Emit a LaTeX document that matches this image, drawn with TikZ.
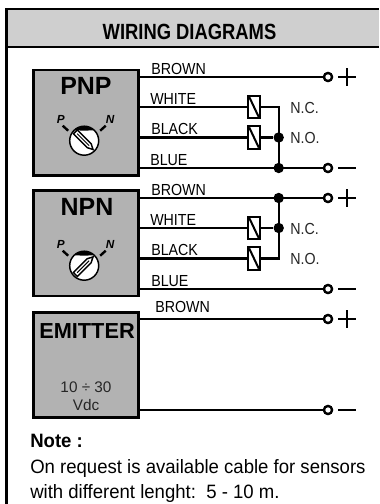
\documentclass[tikz,border=0pt]{standalone}
\usepackage{graphicx}
\usepackage{fontspec}
\setmainfont{Liberation Sans}
\definecolor{boxgray}{gray}{0.70}
\definecolor{headgray}{gray}{0.81}
\newcommand{\narrow}[1]{\scalebox{0.89}[1]{#1}}
\tikzset{
  x=0.75pt,y=-0.75pt,
  box/.style={draw=black,line width=2.1pt,fill=boxgray,minimum width=78.9pt,minimum height=78.9pt,inner sep=0pt},
  wire/.style={draw=black,line width=1.7pt},
  wlabel/.style={anchor=base west,inner sep=0pt,font=\fontsize{12pt}{13pt}\selectfont},
  nclabel/.style={anchor=base west,inner sep=0pt,font=\fontsize{12pt}{13pt}\selectfont,text=black!85},
  term/.style={circle,draw=black,line width=1.7pt,fill=white,minimum size=6pt,inner sep=0pt},
  jdot/.style={circle,fill=black,minimum size=7.8pt,inner sep=0pt},
  coil/.style={draw=black,line width=1.6pt,fill=white,minimum width=8.4pt,minimum height=17pt,inner sep=0pt},
  title/.style={font=\bfseries\fontsize{18.7pt}{21pt}\selectfont,inner sep=0pt},
  notetext/.style={anchor=base west,inner sep=0pt,font=\fontsize{14.5pt}{16pt}\selectfont},
  dialmark/.style={inner sep=0pt,font=\bfseries\itshape\fontsize{8.8pt}{10pt}\selectfont},
}
\newcommand{\coilmark}[1]{\draw[black,line width=1.5pt] ([xshift=-3.6pt,yshift=7.6pt]#1.center) -- ([xshift=3.6pt,yshift=-7.6pt]#1.center);}
\newcommand{\selector}[3]{%
  \begin{scope}[shift={(#1,#2)}]
    \draw[black,line width=1.1pt,fill=white] (0,0) circle (14.5);
    \fill[black] (-9.5,-10.5) .. controls (-4,-15.5) and (4,-15.5) .. (9.5,-10.5) .. controls (4,-10) and (-4,-10) .. (-9.5,-10.5) -- cycle;
    \draw[black,line width=1.1pt,fill=white,rotate=#3] (-12.5,-2.8) -- (7,-2.8) -- (12.5,0) -- (7,2.8) -- (-12.5,2.8) -- cycle;
    \draw[black,line width=0.7pt,rotate=#3] (-10,0) -- (7,0);
    \draw[black,line width=1.8pt] (-16,-10) -- (-21.5,-15);
    \draw[black,line width=1.8pt] (16,-10) -- (21.5,-15);
    \node[dialmark] at (-23.3,-21) {P};
    \node[dialmark] at (26,-21) {N};
  \end{scope}}
\begin{document}
\begin{tikzpicture}
\useasboundingbox (0,0) rectangle (379,504);
\fill[white] (0,0) rectangle (379,504);
\fill[headgray] (6.7,9) rectangle (379,47);
\draw[black,line width=2pt] (6.7,504) -- (6.7,9) -- (379,9);
\draw[black,line width=2pt] (6.7,47) -- (379,47);
\node[inner sep=0pt,font=\bfseries\fontsize{16.5pt}{18pt}\selectfont] (head) at (189.5,32) {\scalebox{0.836}[1]{WIRING DIAGRAMS}};

% boxes
\node[box] (pnp) at (85.8,122.5) {};
\node[box] (npn) at (85.8,243.3) {};
\node[box] (emi) at (85.8,364.8) {};
\node[title] (tpnp) at (86,86) {PNP};
\node[title] (tnpn) at (87,207) {NPN};
\node[title,font=\bfseries\fontsize{16.3pt}{18pt}\selectfont] (temi) at (87,331) {EMITTER};
\node[inner sep=0pt,anchor=base,font=\fontsize{11.5pt}{13pt}\selectfont,text=black!85] (vdc1) at (86,392) {10 ÷ 30};
\node[inner sep=0pt,anchor=base,font=\fontsize{11.5pt}{13pt}\selectfont,text=black!85] (vdc2) at (86,410) {Vdc};
\selector{84.2}{140.7}{-45}
\selector{84.2}{265.7}{45}

% terminals
\foreach \n/\y in {a/77,b/168,c/198,d/289,e/319,f/410}{
  \node[term] (t\n) at (328,\y) {};
}
% PNP wires
\coordinate (pa) at (139,77); \coordinate (pb) at (139,107); \coordinate (pc) at (139,137.5); \coordinate (pd) at (139,168);
\node[coil] (c1) at (254,107) {};
\node[coil] (c2) at (254,137.5) {};
\node[jdot] (j1) at (278.7,137.5) {};
\node[jdot] (j2) at (278.7,168) {};
\coordinate (k1) at (278.7,107);
\draw[wire] (pa) -- (ta);
\draw[wire] (pb) -- (c1);
\draw[wire] (pc) -- (c2);
\draw[wire] (pd) -- (tb);
\draw[wire] (c1) -- (k1) -- (j2);
\draw[wire] (c2) -- (j1);
\node[coil] at (254,107) (c1a) {};\coilmark{c1a}
\node[coil] at (254,137.5) (c2a) {};\coilmark{c2a}
\node[term] at (328,77) {};\node[term] at (328,168) {};

% NPN wires
\coordinate (na) at (139,198); \coordinate (nb) at (139,228); \coordinate (nc) at (139,258.5); \coordinate (nd) at (139,289);
\node[jdot] (j3) at (278.7,198) {};
\node[jdot] (j4) at (278.7,228) {};
\coordinate (k2) at (278.7,258.5);
\draw[wire] (na) -- (tc);
\draw[wire] (nb) -- (j4);
\draw[wire] (nc) -- (k2) -- (j3);
\draw[wire] (nd) -- (td);
\node[coil] (c3) at (254,228) {};\coilmark{c3}
\node[coil] (c4) at (254,258.5) {};\coilmark{c4}
\node[term] at (328,198) {};\node[term] at (328,289) {};

% emitter wires
\coordinate (ea) at (139,319); \coordinate (eb) at (139,410);
\draw[wire] (ea) -- (te);
\draw[wire] (eb) -- (tf);
\node[term] at (328,319) {};\node[term] at (328,410) {};

% signs
\foreach \y in {77,198,319}{
  \draw[black,line width=1.9pt] (338,\y) -- (356,\y) (347,\y-9) -- (347,\y+9);
}
\foreach \y in {168,289,410}{
  \draw[black,line width=1.9pt] (338,\y) -- (356,\y);
}

% wire labels
\foreach \n/\x/\y/\t in {l1/151/74.5/BROWN,l2/150/104.5/WHITE,l3/151/134.5/BLACK,l4/150/165/BLUE,l5/151/195/BROWN,l6/150/225.5/WHITE,l7/151/255.5/BLACK,l8/151/286/BLUE,l9/155/312.5/BROWN}{
  \node[wlabel] (\n) at (\x,\y) {\narrow{\t}};
}
\node[nclabel] (nc1) at (290,113.3) {\narrow{N.C.}};
\node[nclabel] (no1) at (290,143.3) {\narrow{N.O.}};
\node[nclabel] (nc2) at (290,234.3) {\narrow{N.C.}};
\node[nclabel] (no2) at (290,264.3) {\narrow{N.O.}};

% note
\node[notetext,font=\bfseries\fontsize{14.5pt}{16pt}\selectfont] (note) at (30,447) {\scalebox{0.96}[1]{Note :}};
\node[notetext] (n1) at (30,473) {\scalebox{0.96}[1]{On request is available cable for sensors}};
\node[notetext] (n2) at (30,498) {\scalebox{0.96}[1]{with different lenght:\ \ 5 - 10 m.}};
\end{tikzpicture}
\end{document}
